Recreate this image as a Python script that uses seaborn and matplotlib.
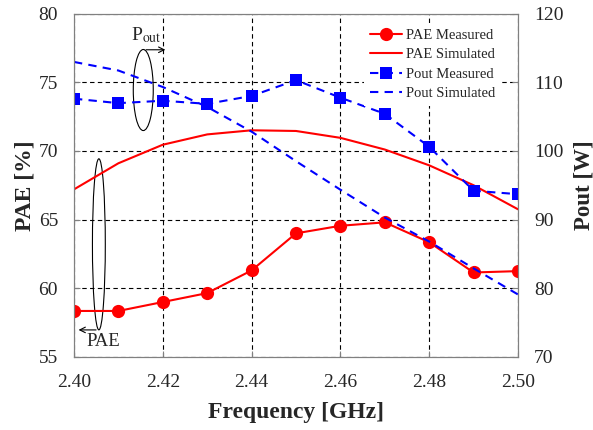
import numpy as np
import pandas as pd
import seaborn as sns
import matplotlib.pyplot as plt
from matplotlib.patches import Ellipse

# values
freq = [2.40, 2.41, 2.42, 2.43, 2.44, 2.45, 2.46, 2.47, 2.48, 2.49, 2.50]
pae_meas = [58.35, 58.35, 59.0, 59.65, 61.3, 64.0, 64.55, 64.8, 63.35, 61.15, 61.25]
pae_sim = [67.2, 69.1, 70.45, 71.2, 71.5, 71.45, 70.95, 70.1, 68.95, 67.5, 65.75]
pout_meas = [107.6, 106.95, 107.3, 106.85, 108.0, 110.3, 107.75, 105.4, 100.6, 94.2, 93.7]
pout_sim = [112.95, 111.7, 109.3, 106.4, 102.8, 98.5, 94.35, 90.3, 86.8, 82.9, 79.1]

sns.set_style("ticks")
plt.rcParams['font.family'] = ['Liberation Serif', 'DejaVu Serif']
plt.rcParams['mathtext.fontset'] = 'stix'

df = pd.DataFrame({'freq': freq, 'pae_meas': pae_meas, 'pae_sim': pae_sim,
                   'pout_meas': pout_meas, 'pout_sim': pout_sim})

fig = plt.figure(figsize=(5.93, 4.30), dpi=100)
ax = fig.add_axes([0.1248, 0.1698, 0.7487, 0.7988])
ax2 = ax.twinx()

sns.lineplot(data=df, x='freq', y='pae_meas', ax=ax, color='red', lw=1.5,
             marker='o', markersize=9.5, markeredgewidth=0, label='PAE Measured', legend=False)
sns.lineplot(data=df, x='freq', y='pae_sim', ax=ax, color='red', lw=1.5,
             label='PAE Simulated', legend=False)
sns.lineplot(data=df, x='freq', y='pout_meas', ax=ax2, color='blue', lw=1.5,
             marker='s', markersize=8.5, markeredgewidth=0,
             label='Pout Measured', legend=False)
sns.lineplot(data=df, x='freq', y='pout_sim', ax=ax2, color='blue', lw=1.5,
             label='Pout Simulated', legend=False)
ax2.lines[0].set_dashes((4, 3))
ax2.lines[1].set_dashes((4, 3))

ax.set_xlim(2.40, 2.50)
ax.set_ylim(55, 80)
ax2.set_ylim(70, 120)
ax.set_xticks(np.arange(2.40, 2.501, 0.02))
ax.set_xticklabels([f'{v:.2f}' for v in np.arange(2.40, 2.501, 0.02)])
ax.set_yticks(np.arange(55, 81, 5))
ax2.set_yticks(np.arange(70, 121, 10))

ax.grid(True, color='black', linestyle=(0, (4, 3)), linewidth=0.8)
for a in (ax, ax2):
    a.tick_params(direction='in', labelsize=14, length=4, color='gray', pad=11.5)
    for s in a.spines.values():
        s.set_color('gray')
ax.tick_params(axis='x', pad=12)

ax.set_xlabel('Frequency [GHz]', fontsize=17, fontweight='bold', labelpad=8)
ax.set_ylabel('PAE [%]', fontsize=17, fontweight='bold', labelpad=2)
ax2.set_ylabel('Pout [W]', fontsize=16.5, fontweight='bold', labelpad=7)

# annotations
ax.add_patch(Ellipse((2.4156, 74.43), 0.0045, 5.9, fill=False, ec='black', lw=0.8))
ax.annotate('', xy=(2.4212, 77.36), xytext=(2.4156, 77.36),
            arrowprops=dict(arrowstyle='->', lw=0.8, color='black'))
ax.text(2.4128, 78.45, r'P$_{\mathrm{out}}$', fontsize=14, va='center', ha='left')

ax.add_patch(Ellipse((2.4056, 63.2), 0.0029, 12.45, fill=False, ec='black', lw=0.8))
ax.annotate('', xy=(2.4004, 56.97), xytext=(2.4056, 56.97),
            arrowprops=dict(arrowstyle='->', lw=0.8, color='black'))
ax.text(2.4028, 56.1, 'PAE', fontsize=13.5, va='center', ha='left')

h1, l1 = ax.get_legend_handles_labels()
h2, l2 = ax2.get_legend_handles_labels()
leg = ax2.legend(h1 + h2, l1 + l2, loc='upper right', bbox_to_anchor=(0.962, 0.972),
                 frameon=True, fancybox=False, edgecolor='none', facecolor='white',
                 framealpha=1, fontsize=10.5, borderaxespad=0, handlelength=2.2,
                 handletextpad=0.25, labelspacing=0.42)

fig.savefig('out.png', dpi=100)
